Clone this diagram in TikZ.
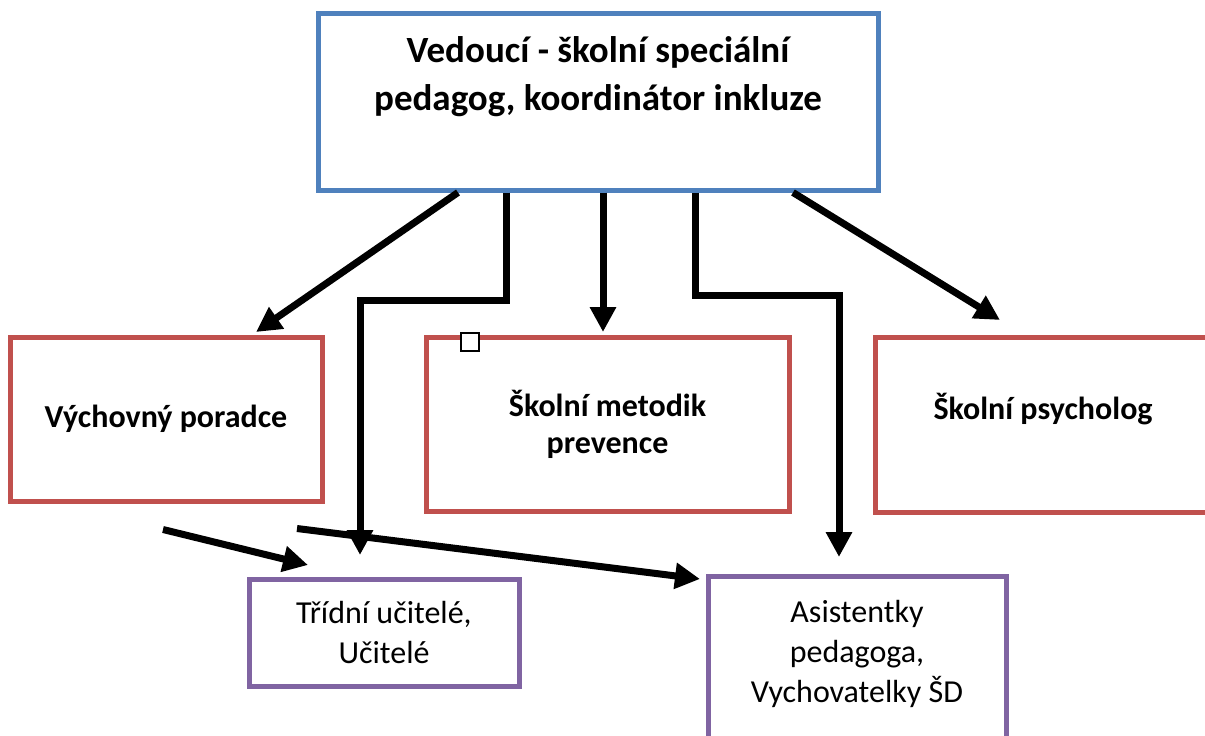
\documentclass[tikz,border=0pt]{standalone}
\usepackage{fontspec}
\setmainfont{Carlito}
\usetikzlibrary{arrows.meta}
\definecolor{headblue}{HTML}{4F81BD}
\definecolor{teamred}{HTML}{C0504D}
\definecolor{staffviolet}{HTML}{8064A2}

\begin{document}
\begin{tikzpicture}[x=1pt, y=-1pt,
    head/.style = {draw=headblue, line width=5pt, minimum width=560pt, minimum height=177pt},
    headtxt/.style = {align=center, font=\bfseries\fontsize{37}{48}\selectfont},
    team/.style = {draw=teamred, line width=5pt, align=center, font=\bfseries\fontsize{32}{37}\selectfont},
    staff/.style = {draw=staffviolet, line width=5pt, align=center, font=\fontsize{32}{40}\selectfont},
    link/.style = {line width=7pt, -{Triangle[length=25pt,width=25pt]}}]
    \useasboundingbox (0,0) rectangle (1205,736);
    \clip (0,0) rectangle (1205,736);
    \fill[white] (0,0) rectangle (1205,736);
    % boxes
    \node[head] (lead) at (598,101.5) {};
    \node[headtxt] (leadtxt) at (598,77) {Vedoucí - školní speciální\\pedagog, koordinátor inkluze};
    \node[team, minimum width=312pt, minimum height=164pt] (vp) at (166,419) {Výchovný poradce};
    \node[team, minimum width=363pt, minimum height=174pt] (smp) at (607.5,424) {Školní metodik\\prevence};
    \node[team, minimum width=336pt, minimum height=175pt, text depth=36pt] (sp) at (1043,424.5) {Školní psycholog};
    \node[staff, minimum width=270pt, minimum height=107pt] (tu) at (384,632.5) {Třídní učitelé,\\Učitelé};
    \node[staff, minimum width=298pt, minimum height=190pt, text depth=40pt] (as) at (857,671) {Asistentky\\pedagoga,\\Vychovatelky ŠD};
    \node[draw, fill=white, line width=1.5pt, minimum size=18pt, inner sep=0pt] (sq) at (470,342) {};
    % arrows from the head
    \draw[link] ([xshift=-140pt]lead.south) -- ([xshift=90pt,yshift=2.5pt]vp.north);
    \draw[link] ([xshift=-92pt]lead.south) -- ++(0,107.5) -| ([xshift=-24pt,yshift=21.5pt]tu.north);
    \draw[link] ([xshift=5pt]lead.south) -- ([xshift=-4.5pt,yshift=2.5pt]smp.north);
    \draw[link] ([xshift=97pt]lead.south) -- ++(0,102.5) -| ([xshift=-18pt,yshift=16.5pt]as.north);
    \draw[link] ([xshift=195pt]lead.south) -- ([xshift=-43pt,yshift=14.5pt]sp.north);
    % arrows under the left box
    \coordinate (fromvp) at ([xshift=-3pt,yshift=-26pt]vp.south);
    \coordinate (fromvp2) at ([xshift=131pt,yshift=-25pt]vp.south);
    \draw[link] (fromvp) -- ([xshift=61.5pt,yshift=11.5pt]tu.north west);
    \draw[link] (fromvp2) -- ([xshift=-5.5pt,yshift=-5.5pt]as.north west);
\end{tikzpicture}
\end{document}
